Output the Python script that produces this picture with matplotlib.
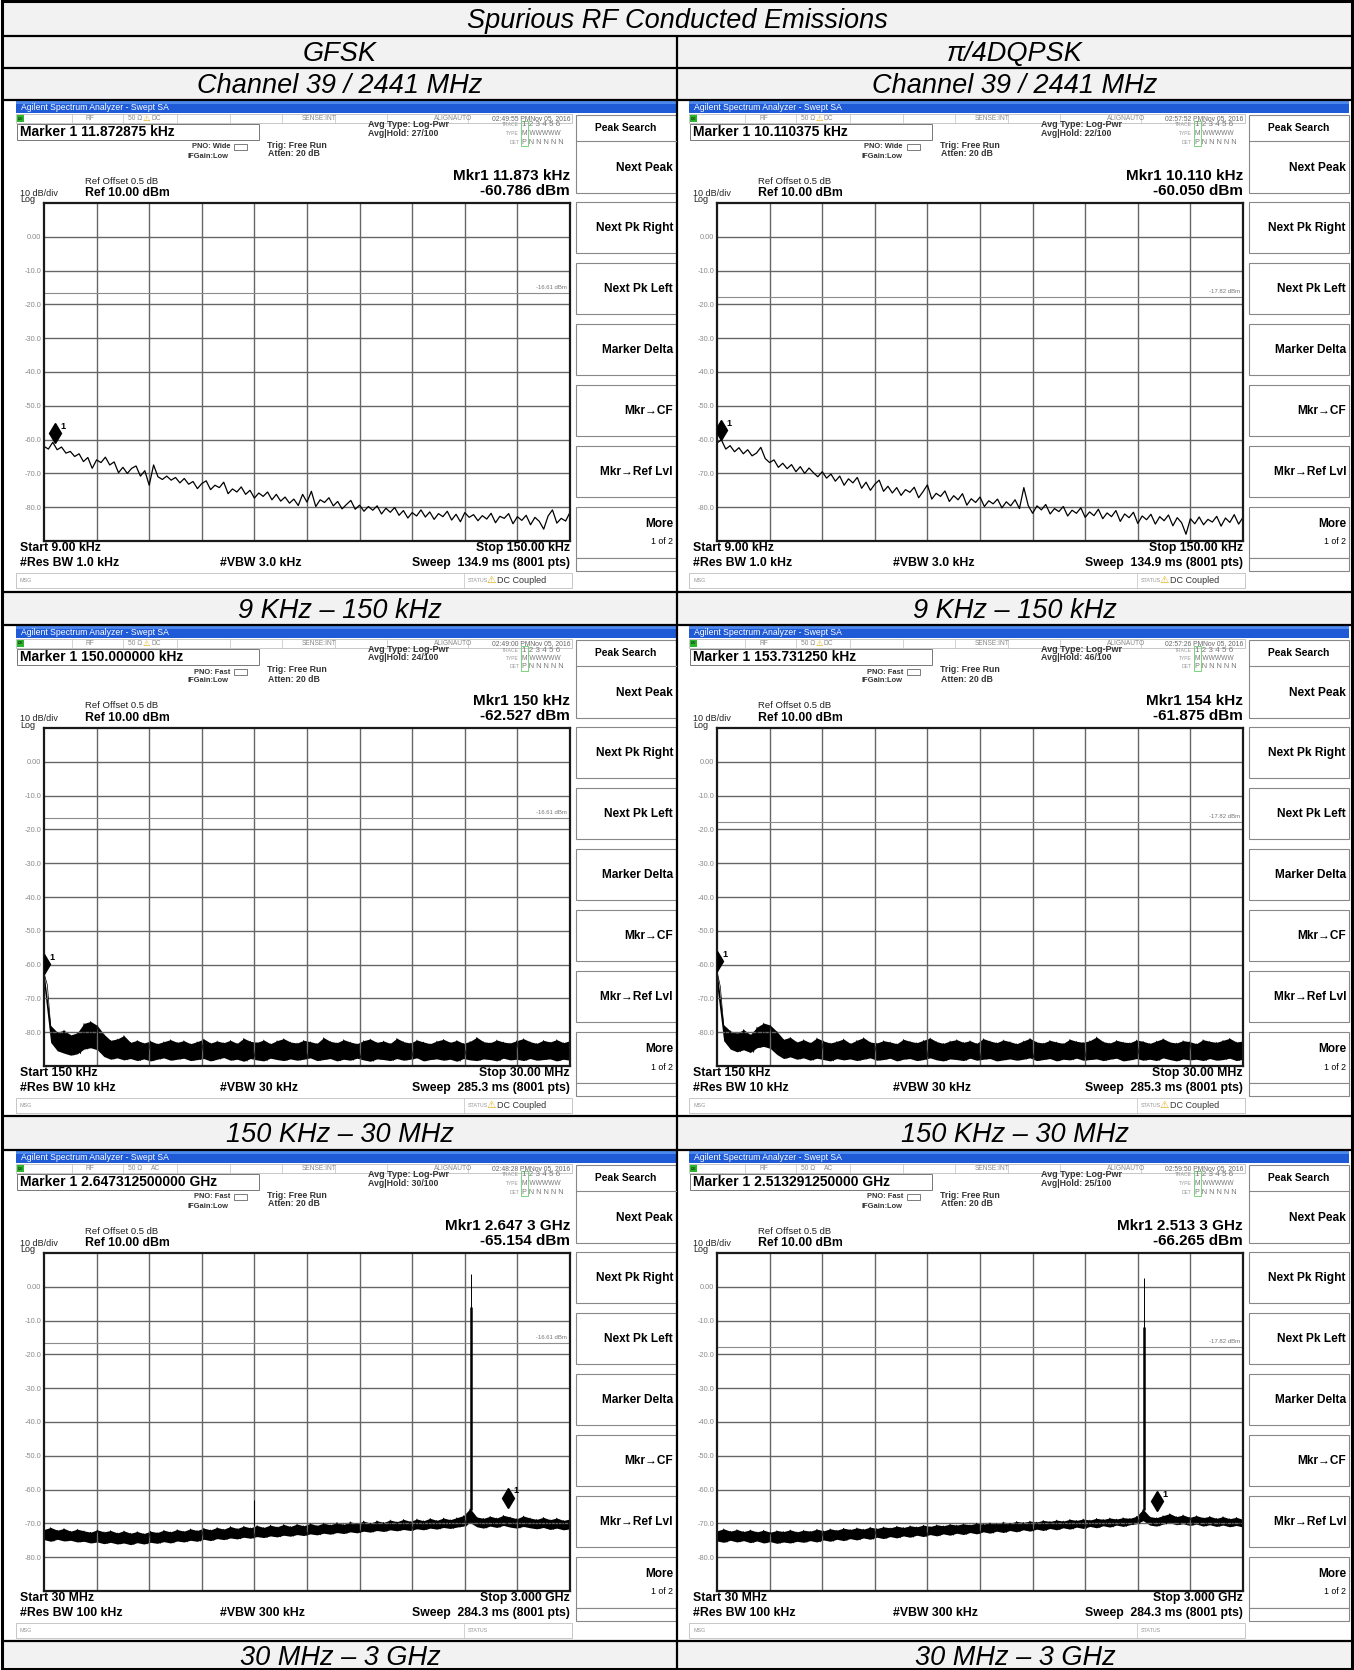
import matplotlib
matplotlib.use("Agg")
import matplotlib.pyplot as plt
from matplotlib.patches import Rectangle
import numpy as np

# ---- table text ----
table_title = "Spurious RF Conducted Emissions"
modulations = ["GFSK", "π/4DQPSK"]
channel_label = "Channel 39 / 2441 MHz"
range_labels = ["9 KHz – 150 kHz", "150 KHz – 30 MHz", "30 MHz – 3 GHz"]

# ---- sweep settings per row ----
start_freq = [9.0, 150.0, 30.0]          # kHz, kHz, MHz
stop_freq = [150.0, 30000.0, 3000.0]
start_text = ["Start 9.00 kHz", "Start 150 kHz", "Start 30 MHz"]
stop_text = ["Stop 150.00 kHz", "Stop 30.00 MHz", "Stop 3.000 GHz"]
rbw_text = ["#Res BW 1.0 kHz", "#Res BW 10 kHz", "#Res BW 100 kHz"]
vbw_text = ["#VBW 3.0 kHz", "#VBW 30 kHz", "#VBW 300 kHz"]
sweep_text = ["134.9 ms (8001 pts)", "285.3 ms (8001 pts)", "284.3 ms (8001 pts)"]
coupling = ["DC", "DC", "AC"]
status_msg = ["DC Coupled", "DC Coupled", ""]
pno_mode = ["Wide", "Fast", "Fast"]

# ---- per panel (row-major: GFSK, DQPSK) ----
marker_header = ["Marker 1 11.872875 kHz", "Marker 1 10.110375 kHz",
                 "Marker 1 150.000000 kHz", "Marker 1 153.731250 kHz",
                 "Marker 1 2.647312500000 GHz", "Marker 1 2.513291250000 GHz"]
mkr_freq_text = ["Mkr1 11.873 kHz", "Mkr1 10.110 kHz", "Mkr1 150 kHz",
                 "Mkr1 154 kHz", "Mkr1 2.647 3 GHz", "Mkr1 2.513 3 GHz"]
mkr_level_text = ["-60.786 dBm", "-60.050 dBm", "-62.527 dBm",
                  "-61.875 dBm", "-65.154 dBm", "-66.265 dBm"]
marker_freq = [11.873, 10.110, 150.0, 153.73, 2647.3, 2513.3]
marker_level = [-60.786, -60.050, -62.527, -61.875, -65.154, -66.265]
timestamps = ["02:49:55 PM", "02:57:52 PM", "02:49:00 PM",
              "02:57:26 PM", "02:48:28 PM", "02:59:50 PM"]
avg_hold = ["27/100", "22/100", "24/100", "46/100", "30/100", "25/100"]
display_line = [-16.61, -17.82]

softkeys = ["Next Pk Right", "Next Pk Left", "Marker Delta", "Mkr→CF", "Mkr→Ref Lvl"]
y_tick_vals = [0, -10, -20, -30, -40, -50, -60, -70, -80]
y_tick_text = ["0.00", "-10.0", "-20.0", "-30.0", "-40.0", "-50.0", "-60.0", "-70.0", "-80.0"]

# ---- traces (dBm) ----
trace_9k_gfsk = [
    -62.0, -62.8, -60.8, -63.0, -62.2, -64.0, -63.5, -65.0, -64.2, -66.5,
    -65.3, -68.5, -66.0, -66.8, -65.2, -67.5, -66.6, -69.8, -68.2, -70.0,
    -68.5, -67.8, -70.8, -69.2, -73.5, -67.5, -71.0, -71.8, -70.8, -72.0,
    -71.2, -72.8, -71.5, -73.2, -72.4, -74.5, -73.0, -72.2, -74.8, -73.5,
    -74.2, -72.6, -76.0, -74.6, -75.5, -74.0, -76.2, -75.0, -77.3, -75.8,
    -76.8, -75.5, -77.8, -76.2, -78.2, -77.0, -78.8, -77.6, -79.5, -76.2,
    -78.5, -75.3, -79.8, -77.8, -78.6, -77.2, -79.6, -78.3, -80.5, -79.2,
    -78.0, -80.6, -79.4, -81.2, -79.8, -80.9, -79.6, -82.0, -80.3, -81.5,
    -80.1, -82.4, -81.0, -83.2, -81.6, -82.6, -80.8, -82.9, -81.4, -83.6,
    -81.9, -82.8, -81.2, -83.8, -82.1, -84.3, -81.6, -83.0, -82.2, -84.0,
    -82.5, -83.5, -81.8, -84.6, -82.7, -83.3, -81.9, -84.9, -82.8, -83.9,
    -82.4, -85.2, -83.0, -84.2, -86.5, -82.6, -80.8, -84.7, -83.3, -84.1,
    -81.5]
trace_9k_dqpsk = [
    -61.0, -60.1, -62.8, -61.8, -63.6, -62.4, -64.2, -63.0, -64.8, -64.0,
    -62.3, -65.6, -66.8, -66.0, -68.2, -67.0, -68.6, -67.4, -69.5, -68.0,
    -70.0, -68.4, -69.8, -71.0, -69.5, -71.4, -70.2, -72.3, -70.8, -73.5,
    -71.6, -72.8, -71.2, -74.4, -72.6, -75.0, -73.2, -72.0, -75.3, -73.8,
    -75.8, -74.2, -76.5, -74.8, -75.6, -74.1, -77.2, -75.4, -73.4, -77.6,
    -75.9, -76.8, -75.2, -78.3, -76.6, -77.8, -76.0, -79.4, -77.5, -78.6,
    -77.0, -79.8, -78.1, -79.0, -77.6, -80.2, -78.4, -79.6, -77.8, -80.4,
    -74.2, -79.5, -81.8, -79.6, -80.8, -79.2, -82.0, -80.4, -81.3, -79.8,
    -82.6, -80.9, -81.8, -80.2, -83.0, -81.4, -82.5, -80.6, -83.4, -81.7,
    -82.8, -81.0, -84.2, -82.0, -83.1, -81.5, -84.8, -82.6, -83.7, -82.1,
    -85.0, -82.8, -84.0, -82.3, -85.5, -83.1, -84.6, -88.0, -83.4, -84.9,
    -82.9, -85.2, -83.6, -84.4, -82.7, -85.6, -83.2, -84.5, -82.2, -85.0,
    -83.0]

upper_150k_gfsk = [
    -62.5, -78.0, -80.0, -79.4, -80.8, -80.2, -77.4, -76.8, -78.0, -80.6,
    -82.4, -82.0, -81.0, -83.0, -82.4, -83.2, -82.6, -83.4, -82.8, -82.2,
    -83.0, -82.5, -83.4, -82.8, -82.0, -83.2, -82.6, -83.1, -82.4, -83.3,
    -81.8, -82.7, -83.0, -82.3, -83.4, -82.5, -81.9, -82.9, -83.2, -82.4,
    -82.8, -83.3, -81.6, -82.7, -83.1, -82.2, -82.9, -83.4, -82.5, -82.0,
    -83.0, -82.6, -83.3, -81.8, -82.8, -83.2, -82.3, -82.9, -83.4, -82.6,
    -82.1, -83.0, -82.4, -83.3, -82.7, -81.5, -82.8, -83.1, -82.3, -82.9,
    -83.2, -82.5, -81.9, -82.8, -83.3, -82.4, -82.9, -82.2, -83.1, -82.5]
lower_150k_gfsk = [
    -66.0, -83.0, -85.5, -86.2, -86.8, -86.4, -85.0, -84.6, -85.2, -87.2,
    -88.0, -87.6, -88.2, -87.8, -88.4, -87.9, -88.5, -88.0, -87.6, -88.3,
    -88.0, -87.7, -88.4, -88.1, -87.8, -88.5, -88.0, -87.5, -88.3, -88.0,
    -88.6, -87.8, -88.2, -88.5, -87.7, -88.1, -88.4, -87.9, -88.3, -88.0,
    -87.6, -88.4, -88.1, -87.8, -88.5, -88.0, -88.3, -87.7, -88.2, -88.6,
    -87.9, -88.1, -88.4, -87.8, -88.3, -88.0, -87.6, -88.5, -88.1, -87.9,
    -88.3, -88.0, -88.6, -87.8, -88.2, -88.4, -87.9, -88.1, -88.5, -87.7,
    -88.2, -88.0, -88.4, -87.8, -88.3, -88.1, -87.9, -88.5, -88.0, -88.3]
upper_150k_dqpsk = [
    -61.9, -77.8, -79.6, -80.3, -79.2, -80.7, -78.5, -77.3, -77.9, -79.8,
    -82.1, -81.5, -82.9, -82.2, -83.1, -81.7, -82.6, -83.2, -82.7, -82.0,
    -83.3, -82.4, -81.6, -82.9, -83.2, -82.5, -82.9, -83.4, -82.1, -82.7,
    -83.1, -82.4, -81.7, -82.8, -83.3, -82.6, -82.2, -83.0, -82.5, -83.3,
    -81.9, -82.6, -83.1, -82.3, -82.8, -83.4, -82.6, -81.8, -82.9, -83.2,
    -82.4, -82.9, -83.3, -82.1, -82.7, -83.0, -82.5, -81.4, -82.8, -83.2,
    -82.4, -82.9, -83.1, -82.3, -82.7, -83.3, -82.6, -81.9, -82.9, -83.2,
    -82.5, -82.8, -83.4, -82.2, -82.7, -83.0, -82.4, -81.8, -82.9, -82.6]
lower_150k_dqpsk = [
    -66.5, -82.5, -85.0, -85.8, -85.2, -86.0, -84.6, -84.2, -84.8, -86.6,
    -87.8, -87.3, -88.0, -87.6, -88.3, -87.7, -88.1, -88.5, -87.8, -88.2,
    -87.9, -88.4, -88.0, -87.6, -88.3, -88.1, -87.7, -88.5, -88.0, -87.8,
    -88.4, -88.1, -87.6, -88.2, -88.5, -87.9, -88.1, -88.4, -87.7, -88.3,
    -88.0, -87.8, -88.5, -88.2, -87.9, -88.3, -88.0, -87.6, -88.4, -88.1,
    -87.8, -88.5, -88.0, -88.2, -87.7, -88.3, -88.1, -87.9, -88.4, -88.0,
    -87.7, -88.5, -88.2, -87.8, -88.3, -88.0, -88.4, -87.6, -88.1, -88.5,
    -87.9, -88.2, -88.0, -88.4, -87.8, -88.3, -88.1, -87.7, -88.4, -88.0]

upper_3g_gfsk = [
    -71.8, -71.2, -72.0, -71.5, -72.3, -71.7, -72.2, -72.6, -71.9, -72.5,
    -72.1, -72.8, -72.2, -72.9, -72.4, -73.0, -72.3, -72.7, -72.0, -72.5,
    -71.8, -72.3, -71.6, -72.1, -71.4, -71.9, -71.2, -71.7, -70.9, -71.5,
    -70.8, -71.3, -70.6, -71.2, -70.5, -71.0, -70.3, -70.9, -70.2, -70.7,
    -70.0, -70.6, -69.9, -70.4, -69.7, -70.3, -69.5, -70.1, -69.3, -69.9,
    -69.2, -69.7, -69.0, -69.5, -68.8, -69.4, -68.7, -69.2, -68.5, -69.1,
    -68.4, -68.9, -68.3, -67.7, -65.6, -68.1, -68.5, -67.9, -68.4, -67.6,
    -68.1, -68.6, -67.8, -68.4, -68.8, -68.2, -68.9, -68.4, -69.1, -68.7]
lower_3g_gfsk = [
    -74.8, -75.3, -74.7, -75.2, -75.0, -75.5, -75.3, -75.8, -75.5, -76.0,
    -75.6, -76.1, -75.8, -76.3, -75.7, -76.1, -75.6, -75.9, -75.4, -75.8,
    -75.2, -75.5, -75.0, -75.3, -74.7, -75.1, -74.5, -74.8, -74.3, -74.6,
    -74.1, -74.4, -73.9, -74.2, -73.7, -74.0, -73.5, -73.8, -73.3, -73.6,
    -73.1, -73.4, -72.9, -73.2, -72.7, -73.0, -72.5, -72.8, -72.3, -72.6,
    -72.1, -72.4, -71.9, -72.2, -71.8, -72.1, -71.6, -71.9, -71.4, -71.7,
    -71.2, -71.5, -71.1, -70.8, -69.8, -71.0, -71.4, -70.8, -71.2, -70.6,
    -71.1, -71.4, -70.9, -71.3, -71.6, -71.2, -71.8, -71.4, -71.9, -71.6]
upper_3g_dqpsk = [
    -72.2, -71.6, -72.3, -71.8, -72.4, -71.9, -72.5, -72.0, -72.6, -72.1,
    -72.4, -71.9, -72.5, -72.0, -72.3, -71.7, -72.2, -71.6, -72.0, -71.4,
    -71.8, -71.3, -71.7, -71.1, -71.5, -71.0, -71.3, -70.8, -71.2, -70.7,
    -71.0, -70.5, -70.9, -70.4, -70.7, -70.2, -70.5, -70.1, -70.4, -69.9,
    -70.2, -69.8, -70.1, -69.6, -69.9, -69.4, -69.7, -69.3, -69.6, -69.1,
    -69.4, -69.0, -69.3, -68.8, -69.1, -68.7, -69.0, -68.5, -68.8, -68.4,
    -68.7, -68.3, -68.5, -67.9, -65.8, -68.0, -68.3, -67.7, -67.1, -68.0,
    -67.5, -68.2, -67.7, -68.3, -67.9, -68.5, -68.0, -68.6, -68.2, -68.8]
lower_3g_dqpsk = [
    -75.2, -75.6, -75.0, -75.5, -75.1, -75.7, -75.2, -75.8, -75.4, -75.9,
    -75.5, -75.8, -75.3, -75.6, -75.1, -75.5, -74.9, -75.3, -74.7, -75.1,
    -74.5, -74.9, -74.3, -74.7, -74.1, -74.5, -73.9, -74.3, -73.7, -74.1,
    -73.5, -73.9, -73.3, -73.7, -73.1, -73.5, -72.9, -73.3, -72.7, -73.1,
    -72.5, -72.9, -72.3, -72.7, -72.1, -72.5, -71.9, -72.3, -71.7, -72.1,
    -71.5, -71.9, -71.3, -71.7, -71.1, -71.5, -70.9, -71.3, -70.7, -71.1,
    -70.5, -70.9, -70.4, -70.1, -69.2, -70.5, -70.8, -70.2, -69.8, -70.4,
    -70.1, -70.6, -70.2, -70.8, -70.4, -70.9, -70.5, -71.0, -70.6, -71.1]

# narrow spurs / carrier in the 30 MHz - 3 GHz sweeps (MHz, dBm, width)
spur_freq_gfsk = [1218.0, 2441.0, 2441.0]
spur_level_gfsk = [-63.0, 3.9, -6.0]
spur_width_gfsk = [0.7, 0.7, 1.8]
spur_freq_dqpsk = [2441.0, 2441.0]
spur_level_dqpsk = [2.5, -12.0]
spur_width_dqpsk = [0.7, 1.8]

line_traces = [trace_9k_gfsk, trace_9k_dqpsk]
band_traces = [[(upper_150k_gfsk, lower_150k_gfsk), (upper_150k_dqpsk, lower_150k_dqpsk)],
               [(upper_3g_gfsk, lower_3g_gfsk), (upper_3g_dqpsk, lower_3g_dqpsk)]]
spurs = [(spur_freq_gfsk, spur_level_gfsk, spur_width_gfsk),
         (spur_freq_dqpsk, spur_level_dqpsk, spur_width_dqpsk)]

W, H = 1354, 1670
plt.rcParams["font.family"] = ["Liberation Sans", "DejaVu Sans"]

fig = plt.figure(figsize=(W / 100, H / 100), dpi=100)
bg = fig.add_axes([0, 0, 1, 1])
bg.set_xlim(0, W)
bg.set_ylim(H, 0)
bg.axis("off")

# ---- table frame ----
shade = "#f2f2f2"
for top, bot in [(0, 36), (36, 68), (68, 100), (592, 625), (1116, 1150), (1641, 1670)]:
    bg.add_patch(Rectangle((2, top), 1350, bot - top, fc=shade, ec="none"))
bg.hlines([36, 68, 100, 592, 625, 1116, 1150, 1641], 2, 1352, color="black", lw=1.6)
bg.vlines(677, 36, 1670, color="black", lw=1.6)
bg.add_patch(Rectangle((2, 1), 1350, 1668, fill=False, ec="black", lw=2.2))

cap = dict(fontsize=19.5, style="italic", ha="center", va="center")
bg.text(677, 20.5, table_title, **cap)
col_center = [340, 1015]
for c in range(2):
    bg.text(col_center[c], 54, modulations[c], **cap)
    bg.text(col_center[c], 86, channel_label, **cap)
    for r, yc in enumerate([610.5, 1135, 1658]):
        bg.text(col_center[c], yc, range_labels[r], **cap)

panel_x = [16, 689]
panel_y = [101, 626, 1151]


def draw_panel(r, c):
    k = r * 2 + c
    x0, y0 = panel_x[c], panel_y[r]

    def T(x, y, s, **kw):
        kw.setdefault("va", "center")
        bg.text(x0 + x, y0 + y, s, **kw)

    bg.add_patch(Rectangle((x0, y0), 660, 488, fc="white", ec="none"))
    # title bar
    bg.add_patch(Rectangle((x0, y0), 660, 12, fc="#1f5bd6", ec="none"))
    bg.add_patch(Rectangle((x0, y0), 660, 3, fc="#4d88ef", ec="none"))
    T(5, 6.5, "Agilent Spectrum Analyzer - Swept SA", color="white", fontsize=6.2)

    # status row
    bg.add_patch(Rectangle((x0, y0 + 13), 556, 9, fc="white", ec="#b0b0b0", lw=0.5))
    for d in [56, 107, 161, 214, 266, 319, 371, 452]:
        bg.plot([x0 + d] * 2, [y0 + 13, y0 + 22], color="#c0c0c0", lw=0.5)
    bg.add_patch(Rectangle((x0 + 1, y0 + 14), 7, 7, fc="#2cb52c", ec="none"))
    T(1.5, 17.5, "LXI", fontsize=2.6, color="black")
    T(70, 17.5, "RF", fontsize=4.8, color="#888")
    T(112, 17.5, "50 Ω", fontsize=4.8, color="#888")
    if coupling[r] == "DC":
        T(127, 17.2, "⚠", fontsize=6, color="#e0a800", family="DejaVu Sans")
        T(135, 17.5, "DC", fontsize=4.8, color="#888")
    else:
        T(135, 17.5, "AC", fontsize=4.8, color="#888")
    T(286, 17.5, "SENSE:INT", fontsize=4.8, color="#888")
    T(418, 17.5, "ALIGNAUTO", fontsize=4.8, color="#888")
    T(554, 17.5, timestamps[k] + "Nov 05, 2016", fontsize=4.9, color="#666", ha="right")

    # marker box and settings
    bg.add_patch(Rectangle((x0 + 1, y0 + 22.5), 242, 16.5, fc="white", ec="#777", lw=0.7))
    T(4, 31, marker_header[k], fontsize=10, fontweight="bold")
    T(214, 46, "PNO: " + pno_mode[r], fontsize=5.4, fontweight="bold", ha="right", color="#333")
    bg.add_patch(Rectangle((x0 + 218, y0 + 42.5), 13, 6, fc="white", ec="#666", lw=0.6))
    T(213, 55, "IFGain:Low", fontsize=5.4, fontweight="bold", ha="right", color="#333")
    T(251, 44, "Trig: Free Run", fontsize=6.3, fontweight="bold", color="#333")
    T(252, 53, "Atten: 20 dB", fontsize=6.3, fontweight="bold", color="#333")
    T(352, 23.5, "Avg Type: Log-Pwr", fontsize=6.5, fontweight="bold", color="#333")
    T(352, 32, "Avg|Hold: " + avg_hold[k], fontsize=6.3, fontweight="bold", color="#333")
    T(503, 24, "TRACE", fontsize=3.6, color="#999", ha="right")
    T(503, 32.5, "TYPE", fontsize=3.6, color="#999", ha="right")
    T(503, 41, "DET", fontsize=3.6, color="#999", ha="right")
    bg.add_patch(Rectangle((x0 + 505, y0 + 20), 7, 25, fill=False, ec="#6c6", lw=0.6))
    T(506, 24, "1 2 3 4 5 6", fontsize=5.8, color="#777")
    T(506, 32.5, "M WWWWW", fontsize=4.8, color="#777")
    T(506, 41, "P N N N N N", fontsize=5.2, color="#777")

    T(554, 75, mkr_freq_text[k], fontsize=11, fontweight="bold", ha="right")
    T(554, 90, mkr_level_text[k], fontsize=11, fontweight="bold", ha="right")
    T(69, 80, "Ref Offset 0.5 dB", fontsize=6.8, color="#222")
    T(4, 92.5, "10 dB/div", fontsize=6.5, color="#222")
    T(69, 92, "Ref 10.00 dBm", fontsize=8.8, fontweight="bold")
    T(4, 99, "Log", fontsize=6.5, color="#222")

    T(4, 447, start_text[r], fontsize=8.8, fontweight="bold")
    T(554, 447, stop_text[r], fontsize=8.8, fontweight="bold", ha="right")
    T(4, 462, rbw_text[r], fontsize=8.8, fontweight="bold")
    T(204, 462, vbw_text[r], fontsize=8.8, fontweight="bold")
    T(554, 462, "Sweep  " + sweep_text[r], fontsize=8.8, fontweight="bold", ha="right")

    # message bar
    bg.add_patch(Rectangle((x0, y0 + 472), 556, 15, fc="white", ec="#b0b0b0", lw=0.5))
    bg.plot([x0 + 448] * 2, [y0 + 472, y0 + 487], color="#c0c0c0", lw=0.5)
    T(4, 479.5, "MSG", fontsize=3.9, color="#999")
    T(452, 479.5, "STATUS", fontsize=3.9, color="#999")
    if status_msg[r]:
        T(470, 479, "⚠", fontsize=7.5, color="#e0a800", family="DejaVu Sans")
        T(481, 479.5, status_msg[r], fontsize=6.5, color="#333")

    # softkeys
    sx = x0 + 560
    bg.add_patch(Rectangle((sx, y0 + 14), 100, 78, fc="white", ec="#888", lw=0.8))
    bg.plot([sx, sx + 100], [y0 + 40, y0 + 40], color="#888", lw=0.8)
    T(610, 27, "Peak Search", fontsize=7.4, fontweight="bold", ha="center")
    T(657, 67, "Next Peak", fontsize=8.6, fontweight="bold", ha="right")
    for i, lab in enumerate(softkeys):
        top = 101 + 61 * i
        bg.add_patch(Rectangle((sx, y0 + top), 100, 51, fc="white", ec="#888", lw=0.8))
        T(657, top + 26, lab, fontsize=8.6, fontweight="bold", ha="right")
    bg.add_patch(Rectangle((sx, y0 + 406), 100, 51, fc="white", ec="#888", lw=0.8))
    T(657, 423, "More", fontsize=8.6, fontweight="bold", ha="right")
    T(657, 441, "1 of 2", fontsize=6.3, ha="right")
    bg.add_patch(Rectangle((sx, y0 + 457), 100, 13, fc="white", ec="#888", lw=0.8))

    # spectrum graticule
    ax = fig.add_axes([(x0 + 28) / W, 1 - (y0 + 440) / H, 526 / W, 338 / H])
    lo_f, hi_f = start_freq[r], stop_freq[r]
    ax.set_xlim(lo_f, hi_f)
    ax.set_ylim(-90, 10)
    ax.set_xticks(np.linspace(lo_f, hi_f, 11)[1:-1])
    ax.set_xticklabels([])
    ax.set_yticks(y_tick_vals)
    ax.set_yticklabels(y_tick_text)
    ax.tick_params(length=0, labelsize=5.3, labelcolor="#8a8a8a", pad=2)
    ax.grid(True, color="#666666", lw=1.0)
    for s in ax.spines.values():
        s.set_linewidth(1.6)
        s.set_color("#1a1a1a")

    dl = display_line[c]
    ax.axhline(dl, color="#8c8c8c", lw=0.8)
    ax.text(0.995, dl + 1.0, "%.2f dBm" % dl, transform=ax.get_yaxis_transform(),
            fontsize=4.3, color="#777", ha="right", va="bottom")

    if r == 0:
        vals = line_traces[c]
        f = np.linspace(lo_f, hi_f, len(vals))
        ax.plot(f, vals, color="black", lw=0.9)
    else:
        up, lo = band_traces[r - 1][c]
        f = np.linspace(lo_f, hi_f, len(up))
        step = f[1] - f[0]
        ax.fill_between(f, lo, up, color="black", lw=0)
        zf = np.column_stack([f, f + step / 2]).ravel()
        zv = np.column_stack([up, lo]).ravel()
        ax.plot(zf, zv, color="black", lw=0.5)
        if r == 2:
            sf, sl, sw = spurs[c]
            base = np.interp(sf, f, up)
            for fr, b, top, w in zip(sf, base, sl, sw):
                ax.vlines(fr, b, top, color="black", lw=w)

    mf, ml = marker_freq[k], marker_level[k]
    ax.plot([mf], [ml + 2.8], marker="d", ms=10, color="black", zorder=5)
    ax.annotate("1", (mf, ml + 2.8), xytext=(4, 3), textcoords="offset points",
                fontsize=6.5, fontweight="bold", annotation_clip=False)


for r in range(3):
    for c in range(2):
        draw_panel(r, c)

fig.savefig("out.png", dpi=100)
